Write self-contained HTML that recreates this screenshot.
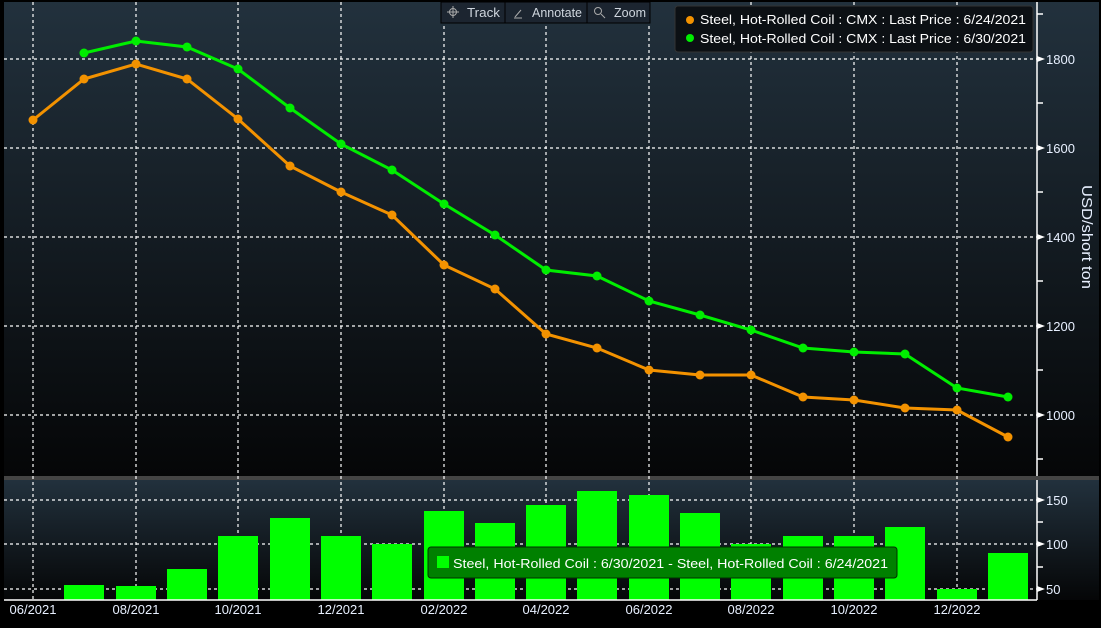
<!DOCTYPE html>
<html><head><meta charset="utf-8"><style>
html,body{margin:0;padding:0;background:#000;width:1101px;height:628px;overflow:hidden}
svg{display:block;font-family:"Liberation Sans",sans-serif}
</style></head><body>
<svg width="1101" height="628" viewBox="0 0 1101 628" xmlns="http://www.w3.org/2000/svg">
<defs>
<linearGradient id="g1" x1="0" y1="0" x2="0" y2="1"><stop offset="0" stop-color="#22313d"/><stop offset="1" stop-color="#050607"/></linearGradient>
<linearGradient id="g2" x1="0" y1="0" x2="0" y2="1"><stop offset="0" stop-color="#22313d"/><stop offset="1" stop-color="#050607"/></linearGradient>
</defs>
<rect x="0" y="0" width="1101" height="628" fill="#000"/>
<rect x="4" y="2" width="1095" height="474" fill="url(#g1)"/>
<rect x="4" y="476" width="1095" height="4" fill="#444"/>
<rect x="4" y="480" width="1095" height="120" fill="url(#g2)"/>
<rect x="4" y="600" width="1095" height="28" fill="#000"/>
<g stroke="#fff" stroke-width="1.2" stroke-dasharray="3,3">
<line x1="4" x2="1037" y1="59" y2="59"/><line x1="4" x2="1037" y1="148" y2="148"/><line x1="4" x2="1037" y1="237" y2="237"/><line x1="4" x2="1037" y1="326" y2="326"/><line x1="4" x2="1037" y1="415" y2="415"/>
<line x1="4" x2="1037" y1="500" y2="500"/><line x1="4" x2="1037" y1="544" y2="544"/><line x1="4" x2="1037" y1="589" y2="589"/>
<line x1="33" x2="33" y1="2" y2="600"/><line x1="136" x2="136" y1="2" y2="600"/><line x1="238" x2="238" y1="2" y2="600"/><line x1="341" x2="341" y1="2" y2="600"/><line x1="444" x2="444" y1="2" y2="600"/><line x1="546" x2="546" y1="2" y2="600"/><line x1="649" x2="649" y1="2" y2="600"/><line x1="751" x2="751" y1="2" y2="600"/><line x1="854" x2="854" y1="2" y2="600"/><line x1="957" x2="957" y1="2" y2="600"/>
</g>
<g fill="#00ff00">
<rect x="64" y="585" width="40" height="15"/><rect x="116" y="586" width="40" height="14"/><rect x="167" y="569" width="40" height="31"/><rect x="218" y="536" width="40" height="64"/><rect x="270" y="518" width="40" height="82"/><rect x="321" y="536" width="40" height="64"/><rect x="372" y="544" width="40" height="56"/><rect x="424" y="511" width="40" height="89"/><rect x="475" y="523" width="40" height="77"/><rect x="526" y="505" width="40" height="95"/><rect x="577" y="491" width="40" height="109"/><rect x="629" y="495" width="40" height="105"/><rect x="680" y="513" width="40" height="87"/><rect x="731" y="544" width="40" height="56"/><rect x="783" y="536" width="40" height="64"/><rect x="834" y="536" width="40" height="64"/><rect x="885" y="527" width="40" height="73"/><rect x="937" y="589" width="40" height="11"/><rect x="988" y="553" width="40" height="47"/>
</g>
<polyline fill="none" stroke="#f39200" stroke-width="3" points="33,120 84,79 136,64 187,79 238,119 290,166 341,192 392,215 444,265 495,289 546,334 597,348 649,370 700,375 751,375 803,397 854,400 905,408 957,410 1008,437"/>
<g fill="#f39200">
<circle cx="33" cy="120" r="4.5"/><circle cx="84" cy="79" r="4.5"/><circle cx="136" cy="64" r="4.5"/><circle cx="187" cy="79" r="4.5"/><circle cx="238" cy="119" r="4.5"/><circle cx="290" cy="166" r="4.5"/><circle cx="341" cy="192" r="4.5"/><circle cx="392" cy="215" r="4.5"/><circle cx="444" cy="265" r="4.5"/><circle cx="495" cy="289" r="4.5"/><circle cx="546" cy="334" r="4.5"/><circle cx="597" cy="348" r="4.5"/><circle cx="649" cy="370" r="4.5"/><circle cx="700" cy="375" r="4.5"/><circle cx="751" cy="375" r="4.5"/><circle cx="803" cy="397" r="4.5"/><circle cx="854" cy="400" r="4.5"/><circle cx="905" cy="408" r="4.5"/><circle cx="957" cy="410" r="4.5"/><circle cx="1008" cy="437" r="4.5"/>
</g>
<polyline fill="none" stroke="#00ee00" stroke-width="3" points="84,53 136,41 187,47 238,69 290,108 341,144 392,170 444,204 495,235 546,270 597,276 649,301 700,315 751,330 803,348 854,352 905,354 957,388 1008,397"/>
<g fill="#00ee00">
<circle cx="84" cy="53" r="4.5"/><circle cx="136" cy="41" r="4.5"/><circle cx="187" cy="47" r="4.5"/><circle cx="238" cy="69" r="4.5"/><circle cx="290" cy="108" r="4.5"/><circle cx="341" cy="144" r="4.5"/><circle cx="392" cy="170" r="4.5"/><circle cx="444" cy="204" r="4.5"/><circle cx="495" cy="235" r="4.5"/><circle cx="546" cy="270" r="4.5"/><circle cx="597" cy="276" r="4.5"/><circle cx="649" cy="301" r="4.5"/><circle cx="700" cy="315" r="4.5"/><circle cx="751" cy="330" r="4.5"/><circle cx="803" cy="348" r="4.5"/><circle cx="854" cy="352" r="4.5"/><circle cx="905" cy="354" r="4.5"/><circle cx="957" cy="388" r="4.5"/><circle cx="1008" cy="397" r="4.5"/>
</g>
<g stroke="#fff" stroke-width="1.5">
<line x1="1037" y1="2" x2="1037" y2="476"/><line x1="1037" y1="480" x2="1037" y2="600"/><line x1="4" y1="600" x2="1037" y2="600"/>
<line x1="1037" x2="1043" y1="14" y2="14"/><line x1="1037" x2="1043" y1="103" y2="103"/><line x1="1037" x2="1043" y1="192" y2="192"/><line x1="1037" x2="1043" y1="281" y2="281"/><line x1="1037" x2="1043" y1="370" y2="370"/><line x1="1037" x2="1043" y1="459" y2="459"/>
<line x1="1037" x2="1043" y1="522" y2="522"/><line x1="1037" x2="1043" y1="567" y2="567"/>
</g>
<g fill="#fff">
<polygon points="1037,56 1045,59 1037,62"/><polygon points="1037,145 1045,148 1037,151"/><polygon points="1037,234 1045,237 1037,240"/><polygon points="1037,323 1045,326 1037,329"/><polygon points="1037,412 1045,415 1037,418"/>
<polygon points="1037,497 1045,500 1037,503"/><polygon points="1037,541 1045,544 1037,547"/><polygon points="1037,586 1045,589 1037,592"/>
</g>
<g fill="#e8f0ff" font-size="13">
<text x="1046" y="64">1800</text><text x="1046" y="153">1600</text><text x="1046" y="242">1400</text><text x="1046" y="331">1200</text><text x="1046" y="420">1000</text>
<text x="1046" y="505">150</text><text x="1046" y="549">100</text><text x="1046" y="594">50</text>
</g>
<text transform="translate(1082,237) rotate(90)" text-anchor="middle" fill="#e8f0ff" font-size="15" textLength="104" lengthAdjust="spacingAndGlyphs">USD/short ton</text>
<g fill="#e8f0ff" font-size="13" text-anchor="middle">
<text x="33" y="614">06/2021</text><text x="136" y="614">08/2021</text><text x="238" y="614">10/2021</text><text x="341" y="614">12/2021</text><text x="444" y="614">02/2022</text><text x="546" y="614">04/2022</text><text x="649" y="614">06/2022</text><text x="751" y="614">08/2022</text><text x="854" y="614">10/2022</text><text x="957" y="614">12/2022</text>
</g>
<rect x="441" y="2" width="209" height="21" fill="#1c2530" stroke="#000" stroke-width="1"/>
<line x1="505" y1="2" x2="505" y2="23" stroke="#000"/>
<line x1="587" y1="2" x2="587" y2="23" stroke="#000"/>
<g fill="#cfd6de" font-size="13">
<text x="467" y="17" textLength="33" lengthAdjust="spacingAndGlyphs">Track</text>
<text x="532" y="17" textLength="50" lengthAdjust="spacingAndGlyphs">Annotate</text>
<text x="614" y="17" textLength="32" lengthAdjust="spacingAndGlyphs">Zoom</text>
</g>
<g stroke="#aaa" stroke-width="1" fill="none">
<circle cx="453" cy="12" r="3.5"/><line x1="447" y1="12" x2="459" y2="12"/><line x1="453" y1="6" x2="453" y2="18"/>
<line x1="515" y1="17" x2="521" y2="10"/><line x1="514" y1="18" x2="522" y2="18"/>
<circle cx="598" cy="11" r="3.5"/><line x1="601" y1="14" x2="605" y2="18"/>
</g>
<rect x="675" y="6" width="358" height="46" rx="3" fill="#0c1014" stroke="#333"/>
<circle cx="690" cy="20" r="4" fill="#f39200"/><circle cx="690" cy="38" r="4" fill="#00ee00"/>
<g fill="#fff" font-size="13">
<text x="700" y="24" textLength="326" lengthAdjust="spacingAndGlyphs">Steel, Hot-Rolled Coil : CMX : Last Price : 6/24/2021</text>
<text x="700" y="43" textLength="326" lengthAdjust="spacingAndGlyphs">Steel, Hot-Rolled Coil : CMX : Last Price : 6/30/2021</text>
</g>
<rect x="428" y="547" width="469" height="31" rx="3" fill="#008000" stroke="#003000"/>
<rect x="437" y="556" width="12" height="12" fill="#00ff00"/>
<text x="453" y="568" fill="#fff" font-size="13" textLength="435" lengthAdjust="spacingAndGlyphs">Steel, Hot-Rolled Coil : 6/30/2021 - Steel, Hot-Rolled Coil : 6/24/2021</text>
</svg>
</body></html>
